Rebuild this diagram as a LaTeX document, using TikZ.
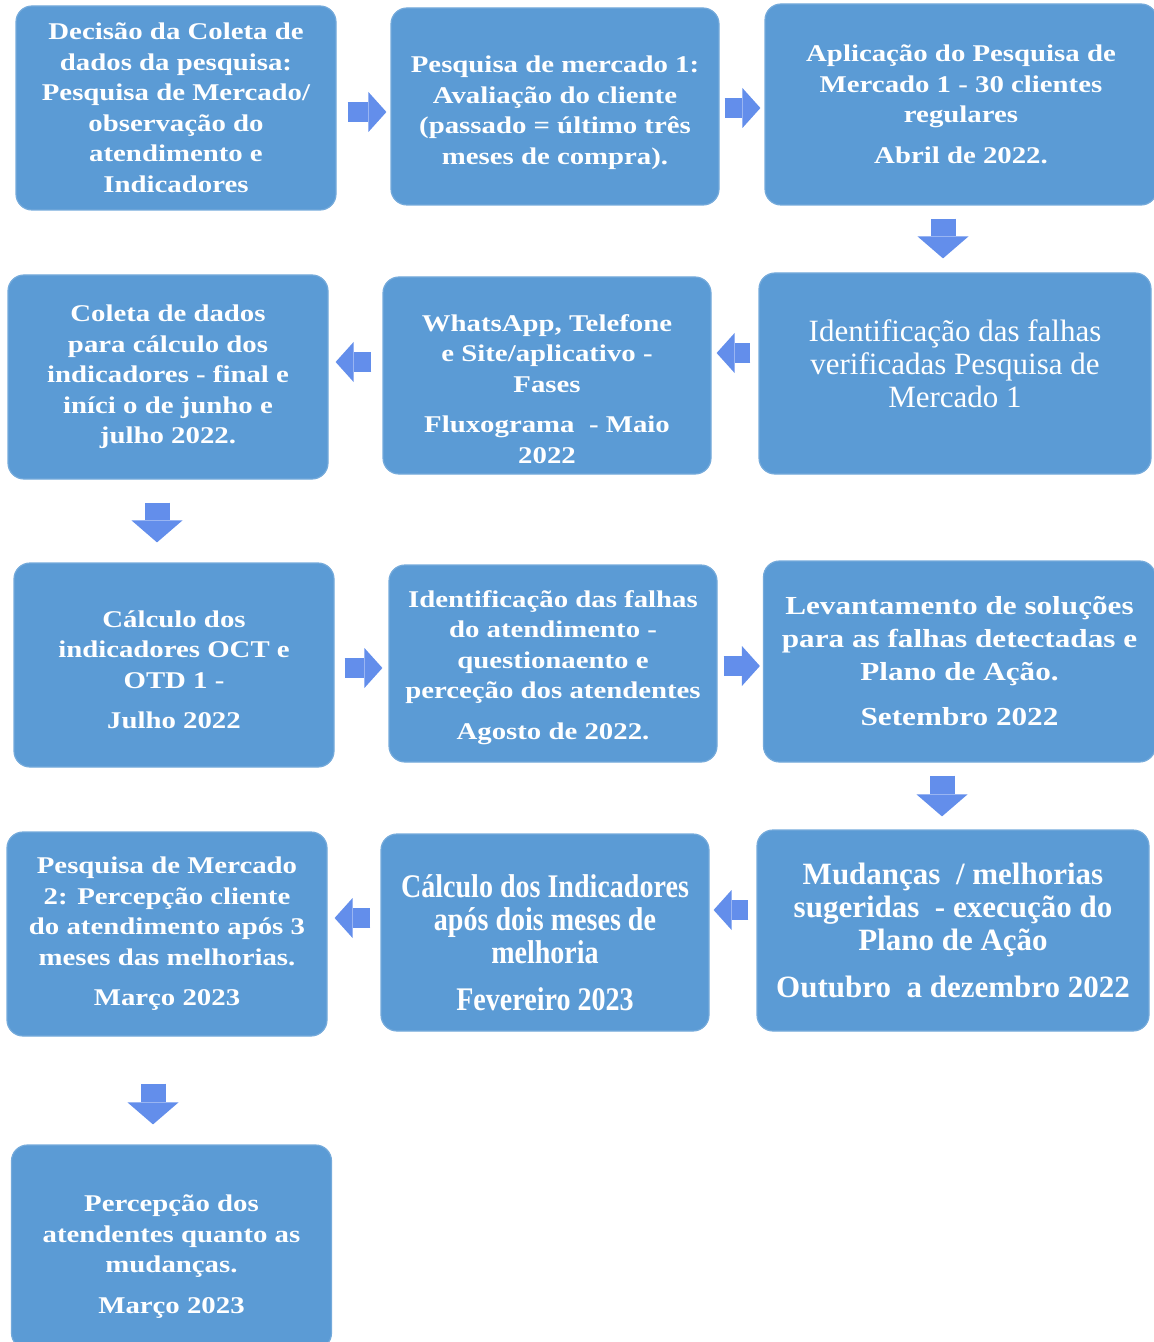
\documentclass[tikz,border=0pt]{standalone}
\usepackage{fontspec}
\setmainfont{Liberation Serif}
\newfontfamily\widefont[FakeStretch=1.2]{Liberation Serif}
\newfontfamily\narrowfont[FakeStretch=0.85]{Liberation Serif}
\usetikzlibrary{arrows.meta}

\definecolor{boxblue}{RGB}{91,155,213}
\definecolor{arrowblue}{RGB}{99,142,235}

\tikzset{
	stage/.style={draw=boxblue!85!white,line width=0.6pt,fill=boxblue,rounded corners=8pt,
		text=white,align=center,inner sep=2pt,font=\widefont\bfseries\fontsize{12}{15.25}\selectfont},
	colA/.style={minimum width=160pt,minimum height=102pt},
	colB/.style={minimum width=164pt,minimum height=98.5pt},
	colC/.style={minimum width=196pt,minimum height=100.5pt},
	harrow/.style={draw=arrowblue,line width=10pt,-{Triangle[width=20pt,length=9pt,line width=0pt]}},
	varrow/.style={draw=arrowblue,line width=12.5pt,-{Triangle[width=25.5pt,length=11pt,line width=0pt]}}
}

\begin{document}
\begin{tikzpicture}[x=0.5pt,y=-0.5pt]
			\useasboundingbox (0,0) rectangle (1153,1342);

			% first row
			\node[stage,colA] (decisao) at (176,108) {Decisão da Coleta de\\dados da pesquisa:\\Pesquisa de Mercado/\\observação do\\atendimento e\\Indicadores};
			\node[stage,colB] (pesq1) at (555,106.5) {\rule{0pt}{14.5pt}Pesquisa de mercado 1:\\Avaliação do cliente\\(passado = último três\\meses de compra).};
			\node[stage,colC] (aplic) at (961,104.5) {Aplicação do Pesquisa de\\Mercado 1 - 30 clientes\\regulares\\[5pt]Abril de 2022.};

			% second row
			\node[stage,colA] (coleta) at (168,377) {Coleta de dados\\para cálculo dos\\indicadores - final e\\iníci o de junho e\\julho 2022.};
			\node[stage,colB] (canais) at (547,375.5) {\rule{0pt}{22pt}WhatsApp, Telefone\\e Site/aplicativo -\\Fases\\[5pt]Fluxograma\ \ - Maio\\2022};
			\node[stage,colC,font=\normalfont\fontsize{15.5}{16.5}\selectfont] (falhas1) at (955,373.5) {Identificação das falhas\\verificadas Pesquisa de\\Mercado 1\rule[-10pt]{0pt}{10pt}};

			% third row
			\node[stage,colA] (calc1) at (174,665) {\rule{0pt}{13pt}Cálculo dos\\indicadores OCT e\\OTD 1 -\\[5pt]Julho 2022};
			\node[stage,colB] (falhas2) at (553,663.5) {\rule{0pt}{12.5pt}Identificação das falhas\\do atendimento -\\questionaento e\\perceção dos atendentes\\[5pt]Agosto de 2022.};
			\node[stage,colC,font=\widefont\bfseries\fontsize{13}{16.5}\selectfont] (solucoes) at (959.5,661.5) {Levantamento de soluções\\para as falhas detectadas e\\Plano de Ação.\\[6pt]Setembro 2022};

			% fourth row
			\node[stage,colA] (pesq2) at (167,934) {Pesquisa de Mercado\\2: Percepção cliente\\do atendimento após 3\\meses das melhorias.\\[5pt]Março 2023};
			\node[stage,colB,font=\narrowfont\bfseries\fontsize{16.5}{16.5}\selectfont] (calc2) at (545,932.5) {\rule{0pt}{21.5pt}Cálculo dos Indicadores\\após dois meses de\\melhoria\\[7pt]Fevereiro 2023};
			\node[stage,colC,font=\normalfont\bfseries\fontsize{15.5}{16.5}\selectfont] (mudancas) at (953,930.5) {Mudanças\ \ / melhorias\\sugeridas\ \ - execução do\\Plano de Ação\\[7pt]Outubro\ \ a dezembro 2022};

			% last row
			\node[stage,colA] (percep) at (171.5,1247) {\rule{0pt}{18pt}Percepção dos\\atendentes quanto as\\mudanças.\\[5pt]Março 2023};

			% block arrows
			\draw[harrow,shorten <=5.5pt,shorten >=2pt] ([yshift=-2pt]decisao.east) -- ([yshift=-2pt]decisao.east -| pesq1.west);
			\draw[harrow,shorten <=2.5pt,shorten >=2pt] ([yshift=-0.75pt]pesq1.east) -- ([yshift=-0.75pt]pesq1.east -| aplic.west);
			\draw[varrow,shorten <=6.5pt,shorten >=7pt] ([xshift=-9pt]aplic.south) -- ([xshift=-9pt]aplic.south |- falhas1.north);
			\draw[harrow,shorten <=4pt,shorten >=2.5pt] ([yshift=10.25pt]falhas1.west) -- ([yshift=10.25pt]falhas1.west -| canais.east);
			\draw[harrow,shorten <=5.5pt,shorten >=3.5pt] ([yshift=6.75pt]canais.west) -- ([yshift=6.75pt]canais.west -| coleta.east);
			\draw[varrow,shorten <=11.5pt,shorten >=10pt] ([xshift=-5.5pt]coleta.south) -- ([xshift=-5.5pt]coleta.south |- calc1.north);
			\draw[harrow,shorten <=5pt,shorten >=3pt] ([yshift=-1.5pt]calc1.east) -- ([yshift=-1.5pt]calc1.east -| falhas2.west);
			\draw[harrow,shorten <=3pt,shorten >=1.5pt] ([yshift=-1.25pt]falhas2.east) -- ([yshift=-1.25pt]falhas2.east -| solucoes.west);
			\draw[varrow,shorten <=6.5pt,shorten >=6.5pt] ([xshift=-8.75pt]solucoes.south) -- ([xshift=-8.75pt]solucoes.south |- mudancas.north);
			\draw[harrow,shorten <=4pt,shorten >=2pt] ([yshift=10.25pt]mudancas.west) -- ([yshift=10.25pt]mudancas.west -| calc2.east);
			\draw[harrow,shorten <=5pt,shorten >=3.5pt] ([yshift=7.25pt]calc2.west) -- ([yshift=7.25pt]calc2.west -| pesq2.east);
			\draw[varrow,shorten <=23.5pt,shorten >=10pt] ([xshift=-7pt]pesq2.south) -- ([xshift=-7pt]pesq2.south |- percep.north);
		\end{tikzpicture}
\end{document}
